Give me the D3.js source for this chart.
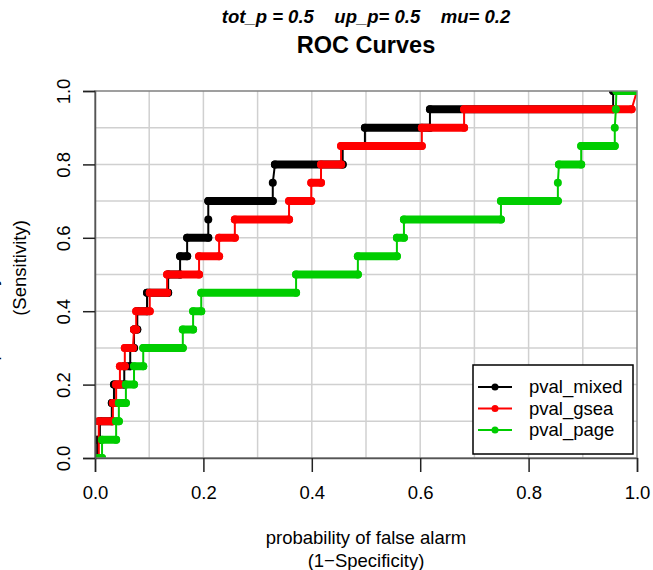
<!DOCTYPE html>
<html>
<head>
<meta charset="UTF-8">
<title>ROC Curves</title>
<script src="https://d3js.org/d3.v7.min.js"></script>
<style>
  body { margin: 0; background: #fff; }
  svg text { font-family: "Liberation Sans", Arial, Helvetica, sans-serif; fill: #000; }
</style>
</head>
<body>
<svg id="chart" width="653" height="570"></svg>
<script>
// series names (legend order = drawing order)
var seriesNames = ['pval_mixed', 'pval_gsea', 'pval_page'];

// ROC vertices [false alarm, sensitivity]
var mixedPts = [[0,0],[0.004,0],[0.004,0.05],[0.009,0.05],[0.009,0.10],[0.031,0.10],[0.031,0.15],[0.035,0.15],
  [0.035,0.20],[0.054,0.20],[0.054,0.25],[0.065,0.25],[0.065,0.30],[0.072,0.30],[0.072,0.35],[0.078,0.35],
  [0.078,0.40],[0.096,0.40],[0.096,0.45],[0.135,0.45],[0.135,0.50],[0.157,0.50],[0.157,0.55],[0.170,0.55],
  [0.170,0.60],[0.209,0.60],[0.209,0.65],[0.209,0.70],[0.328,0.70],[0.328,0.75],[0.332,0.80],[0.457,0.80],
  [0.457,0.85],[0.498,0.85],[0.498,0.90],[0.618,0.90],[0.618,0.95],[0.956,0.95],[0.956,1.0],[1.0,1.0]];

var gseaPts = [[0,0],[0.007,0],[0.007,0.10],[0.033,0.10],[0.033,0.15],[0.039,0.15],[0.039,0.20],[0.046,0.20],
  [0.046,0.25],[0.055,0.25],[0.055,0.30],[0.070,0.30],[0.072,0.35],[0.076,0.35],[0.076,0.40],[0.101,0.40],
  [0.101,0.45],[0.133,0.45],[0.133,0.50],[0.192,0.50],[0.192,0.55],[0.229,0.55],[0.229,0.60],[0.258,0.60],
  [0.258,0.65],[0.358,0.65],[0.358,0.70],[0.399,0.70],[0.399,0.75],[0.417,0.75],[0.417,0.80],[0.454,0.80],
  [0.454,0.85],[0.603,0.85],[0.603,0.90],[0.681,0.90],[0.681,0.95],[0.990,0.95],[1.0,1.0]];

var pagePts = [[0,0],[0.013,0],[0.013,0.05],[0.039,0.05],[0.039,0.10],[0.044,0.10],[0.044,0.15],[0.057,0.15],
  [0.057,0.20],[0.072,0.20],[0.072,0.25],[0.089,0.25],[0.089,0.30],[0.162,0.30],[0.162,0.35],[0.181,0.35],
  [0.181,0.40],[0.196,0.40],[0.196,0.45],[0.371,0.45],[0.371,0.50],[0.485,0.50],[0.485,0.55],[0.557,0.55],
  [0.557,0.60],[0.570,0.60],[0.570,0.65],[0.749,0.65],[0.749,0.70],[0.854,0.70],[0.854,0.75],[0.856,0.80],
  [0.897,0.80],[0.897,0.85],[0.959,0.85],[0.959,0.90],[0.961,0.95],[0.962,1.0],[1.0,1.0]];

var xTicks = [0, 0.2, 0.4, 0.6, 0.8, 1.0];
var yTicks = [0, 0.2, 0.4, 0.6, 0.8, 1.0];
var gridVals = [0.1, 0.2, 0.3, 0.4, 0.5, 0.6, 0.7, 0.8, 0.9];

var subTitle = 'tot_p = 0.5    up_p= 0.5    mu= 0.2';
var mainTitle = 'ROC Curves';
var xLab = ['probability of false alarm', '(1\u2212Specificity)'];
var yLab = ['probability of detection', '(Sensitivity)'];

var colors = { pval_mixed: '#000000', pval_gsea: '#ff0000', pval_page: '#00cd00' };
var series = [
  { name: seriesNames[0], pts: mixedPts },
  { name: seriesNames[1], pts: gseaPts },
  { name: seriesNames[2], pts: pagePts }
];

var svg = d3.select('#chart');
var pL = 95, pR = 637, pT = 91, pB = 458;

var x = d3.scaleLinear().domain([0, 1]).range([pL, pR]);
var y = d3.scaleLinear().domain([0, 1]).range([pB, pT]);

// grid
svg.append('g').selectAll('line').data(gridVals).enter().append('line')
  .attr('x1', d => x(d)).attr('x2', d => x(d)).attr('y1', pT).attr('y2', pB)
  .attr('stroke', '#d0d0d0').attr('stroke-width', 1.5);
svg.append('g').selectAll('line').data(gridVals).enter().append('line')
  .attr('x1', pL).attr('x2', pR).attr('y1', d => y(d)).attr('y2', d => y(d))
  .attr('stroke', '#d0d0d0').attr('stroke-width', 1.5);

// clip for the curves
svg.append('clipPath').attr('id', 'plotclip').append('rect')
  .attr('x', pL).attr('y', pT).attr('width', pR - pL).attr('height', pB - pT);

var curves = svg.append('g').attr('clip-path', 'url(#plotclip)');
var line = d3.line().x(d => x(d[0])).y(d => y(d[1]));

series.forEach(function(s) {
  var col = colors[s.name];
  var g = curves.append('g');
  g.append('path').attr('d', line(s.pts)).attr('fill', 'none')
    .attr('stroke', col).attr('stroke-width', 2);
  // runs of dots along the flat steps
  var flats = [];
  for (var i = 1; i < s.pts.length; i++) {
    if (s.pts[i][1] === s.pts[i - 1][1]) flats.push([s.pts[i - 1], s.pts[i]]);
  }
  g.selectAll('line').data(flats).enter().append('line')
    .attr('x1', d => x(d[0][0])).attr('y1', d => y(d[0][1]))
    .attr('x2', d => x(d[1][0])).attr('y2', d => y(d[1][1]))
    .attr('stroke', col).attr('stroke-width', 8).attr('stroke-linecap', 'round');
  g.selectAll('circle').data(s.pts).enter().append('circle')
    .attr('cx', d => x(d[0])).attr('cy', d => y(d[1])).attr('r', 4).attr('fill', col);
});

// box
svg.append('rect').attr('x', pL).attr('y', pT).attr('width', pR - pL).attr('height', pB - pT)
  .attr('fill', 'none').attr('stroke', '#808080').attr('stroke-width', 1.5);

// axes
var xAxis = svg.append('g').attr('transform', 'translate(0,' + pB + ')')
  .call(d3.axisBottom(x).tickValues(xTicks).tickFormat(d3.format('.1f')).tickSize(14).tickPadding(14));
var yAxis = svg.append('g').attr('transform', 'translate(' + pL + ',0)')
  .call(d3.axisLeft(y).tickValues(yTicks).tickFormat(d3.format('.1f')).tickSize(12).tickPadding(12));
[xAxis, yAxis].forEach(function(a) {
  a.select('.domain').attr('stroke', '#555').attr('stroke-width', 1.5);
  a.selectAll('.tick line').attr('stroke', '#222').attr('stroke-width', 1.5);
  a.selectAll('.tick text').style('font-size', '18.5px').attr('fill', '#111');
});
xAxis.selectAll('.tick text').attr('dy', '0.71em');
// y tick labels read upwards, baseline 25px left of the axis
yAxis.selectAll('.tick text')
  .attr('x', 0).attr('dy', 0).attr('text-anchor', 'middle')
  .attr('transform', 'translate(-25,0) rotate(-90)');

// titles
svg.append('text').attr('x', (pL + pR) / 2).attr('y', 23).attr('text-anchor', 'middle')
  .attr('xml:space', 'preserve').style('white-space', 'pre')
  .style('font-size', '18.5px').style('font-weight', 'bold').style('font-style', 'italic')
  .text(subTitle);
svg.append('text').attr('x', (pL + pR) / 2).attr('y', 53).attr('text-anchor', 'middle')
  .style('font-size', '23.5px').style('font-weight', 'bold').text(mainTitle);

svg.selectAll('text.xlab').data(xLab).enter().append('text').attr('class', 'xlab')
  .attr('x', (pL + pR) / 2).attr('y', (d, i) => 544 + i * 23)
  .attr('text-anchor', 'middle').style('font-size', '18.5px').text(d => d);

// first line sits almost wholly past the left edge, as in the source
svg.selectAll('text.ylab').data(yLab).enter().append('text').attr('class', 'ylab')
  .attr('transform', (d, i) => 'translate(' + (-3 + i * 29) + ',' + 268 + ') rotate(-90)')
  .attr('text-anchor', 'middle').style('font-size', '18.5px').text(d => d);

// legend, bottom right
var lg = svg.append('g').attr('transform', 'translate(473,365)');
lg.append('rect').attr('width', 160).attr('height', 89)
  .attr('fill', '#fff').attr('stroke', '#000').attr('stroke-width', 1.5);
var items = lg.selectAll('g.item').data(seriesNames).enter().append('g').attr('class', 'item')
  .attr('transform', (d, i) => 'translate(0,' + (22 + i * 21.5) + ')');
items.append('line').attr('x1', 5).attr('x2', 39).attr('stroke', d => colors[d]).attr('stroke-width', 2);
items.append('circle').attr('cx', 22).attr('r', 3.5).attr('fill', d => colors[d]);
items.append('text').attr('x', 56).attr('dy', '0.35em').style('font-size', '18.5px').text(d => d);
</script>
</body>
</html>
